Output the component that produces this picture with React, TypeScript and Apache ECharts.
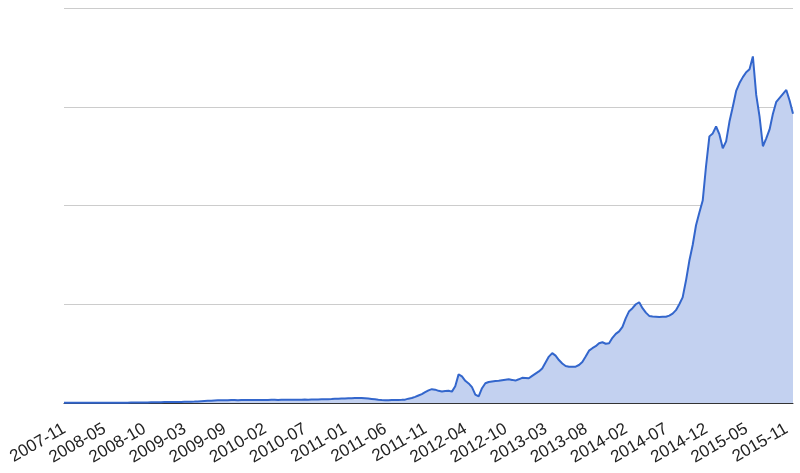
import React, { useEffect, useRef } from 'react';
import * as echarts from 'echarts';

// one label every 12 points
const pointsPerTick = 12;

const tickLabels = [
    '2007-11', '2008-05', '2008-10', '2009-03', '2009-09', '2010-02', '2010-07',
    '2011-01', '2011-06', '2011-11', '2012-04', '2012-10', '2013-03', '2013-08',
    '2014-02', '2014-07', '2014-12', '2015-05', '2015-11',
];

const values = [
    0.2, 0.2, 0.2, 0.2, 0.2, 0.2, 0.2, 0.2, 0.2, 0.2, 0.3, 0.3,
    0.3, 0.3, 0.3, 0.3, 0.3, 0.3, 0.3, 0.3, 0.4, 0.4, 0.5, 0.5,
    0.6, 0.6, 0.7, 0.7, 0.8, 0.8, 0.9, 0.9, 1.0, 1.0, 1.1, 1.1,
    1.2, 1.2, 1.3, 1.4, 1.6, 1.8, 2.0, 2.2, 2.4, 2.6, 2.7, 2.8,
    2.9, 2.8, 3.0, 3.0, 2.9, 3.1, 3.0, 3.0, 3.1, 3.0, 3.0, 3.1,
    3.0, 3.1, 3.2, 3.2, 3.1, 3.2, 3.3, 3.3, 3.3, 3.4, 3.3, 3.4,
    3.5, 3.4, 3.5, 3.6, 3.6, 3.7, 3.8, 3.9, 4.0, 4.2, 4.3, 4.5,
    4.6, 4.7, 4.8, 5.0, 5.1, 5.0, 4.8, 4.5, 4.1, 3.7, 3.3, 3.0,
    2.9, 2.9, 3.0, 3.0, 3.1, 3.2, 3.4, 4.4, 5.0, 6.2, 7.6, 9.0,
    11, 12.8, 14, 13.5, 12.3, 11.6, 12.2, 12.4, 11.5, 17, 29, 27,
    22.5, 19.8, 16, 8.5, 6.8, 15, 20, 21.3, 21.8, 22.2, 22.5, 23,
    23.5, 24, 23.4, 22.7, 24, 25.5, 25.4, 25, 27.5, 29.8, 32, 35,
    41, 47, 50.5, 48, 43.5, 40, 37.5, 36.8, 36.6, 36.8, 38.5, 41.5,
    47, 53, 55.5, 57.5, 60.5, 61.5, 60, 60.5, 66, 70, 72.5, 77,
    86, 93, 96, 100, 102, 96, 91.5, 88.2, 87.6, 87.4, 87.2, 87.3,
    87.4, 88.5, 90.5, 94, 100, 107, 124, 144, 160, 180, 193, 205,
    240, 270, 273, 280, 272, 258, 265, 285, 300, 316, 324, 330,
    335, 338, 351, 312, 290, 260, 268, 277, 293, 305, 309, 313,
    317, 306, 293,
];

const categories = values.map((_, i) =>
    i % pointsPerTick === 0 ? tickLabels[i / pointsPerTick] ?? '' : ''
);

export default function App() {
    const chartRef = useRef<HTMLDivElement | null>(null);

    useEffect(() => {
        if (!chartRef.current) return;
        const chart = echarts.init(chartRef.current, null, { renderer: 'svg' });

        chart.setOption({
            animation: false,
            grid: { left: 64, right: 7, top: 8, bottom: 70 },
            xAxis: {
                type: 'category',
                data: categories,
                boundaryGap: false,
                axisLine: { lineStyle: { color: '#333', width: 1 } },
                axisTick: { show: false },
                axisLabel: {
                    interval: (i: number) => i % pointsPerTick === 0,
                    rotate: 30,
                    margin: 24,
                    color: '#222',
                    fontSize: 17,
                    fontFamily: 'Liberation Sans, Arial, sans-serif',
                },
            },
            yAxis: {
                type: 'value',
                min: 0,
                max: 400,
                interval: 100,
                axisLine: { show: false },
                axisTick: { show: false },
                axisLabel: { show: false },
                splitLine: { lineStyle: { color: '#ccc', width: 1 } },
            },
            series: [
                {
                    type: 'line',
                    data: values,
                    symbol: 'none',
                    lineStyle: { color: '#3366cc', width: 2 },
                    areaStyle: { color: '#c3d1f0', opacity: 1 },
                },
            ],
        });

        return () => {
            chart.dispose();
        };
    }, []);

    return (
        <div
            ref={chartRef}
            style={{ position: 'fixed', left: 0, top: 0, width: '800px', height: '473px' }}
        />
    );
}
